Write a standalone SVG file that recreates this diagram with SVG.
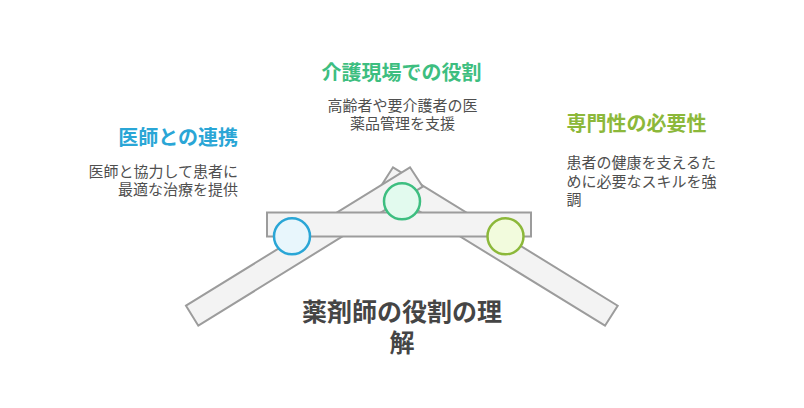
<svg xmlns="http://www.w3.org/2000/svg" width="804" height="408" viewBox="0 0 804 408">
<style>
.bar{fill:#f3f3f3;stroke:#9c9c9c;stroke-width:2;stroke-linejoin:miter}
.t{font-family:"Noto Sans CJK JP","Noto Sans",sans-serif}
.h{font-size:20px;font-weight:700}
.d{font-size:15px;fill:#4f4f4f}
.title{font-size:25px;font-weight:700;fill:#454545}
.c{stroke-width:2.5}
</style>
<rect width="804" height="408" fill="#ffffff"/>
<g id="connectors">
<polygon class="bar" points="393,167.3 617.7,305.7 605,325.7 380.3,187.3"/>
<polygon class="bar" points="186,305.7 198.3,325.7 422.7,186.7 410,167.3"/>
<rect class="bar" x="267" y="212.5" width="264" height="24"/>
</g>
<g id="node-doctor">
<circle class="c" cx="292" cy="236.3" r="18" fill="#e8f6fc" stroke="#2aa6d6"/>
<text class="t h" x="238" y="145" text-anchor="end" fill="#2aa6d6">医師との連携</text>
<text class="t d" text-anchor="end"><tspan x="238" y="176.5">医師と協力して患者に</tspan><tspan x="238" y="194.5">最適な治療を提供</tspan></text>
</g>
<g id="node-care">
<circle class="c" cx="402" cy="201.3" r="18" fill="#e2faee" stroke="#3dbe80"/>
<text class="t h" x="401.5" y="79.5" text-anchor="middle" fill="#3dbe80">介護現場での役割</text>
<text class="t d" text-anchor="middle"><tspan x="402.5" y="111">高齢者や要介護者の医</tspan><tspan x="402.5" y="129">薬品管理を支援</tspan></text>
</g>
<g id="node-expertise">
<circle class="c" cx="505.5" cy="236.3" r="18" fill="#f2fbdd" stroke="#8cb83a"/>
<text class="t h" x="566.5" y="131" fill="#8cb83a">専門性の必要性</text>
<text class="t d"><tspan x="566.5" y="168">患者の健康を支えるた</tspan><tspan x="566.5" y="186.5">めに必要なスキルを強</tspan><tspan x="566.5" y="204.5">調</tspan></text>
</g>
<g id="title">
<text class="t title" text-anchor="middle"><tspan x="402" y="321">薬剤師の役割の理</tspan><tspan x="402" y="352">解</tspan></text>
</g>
</svg>
